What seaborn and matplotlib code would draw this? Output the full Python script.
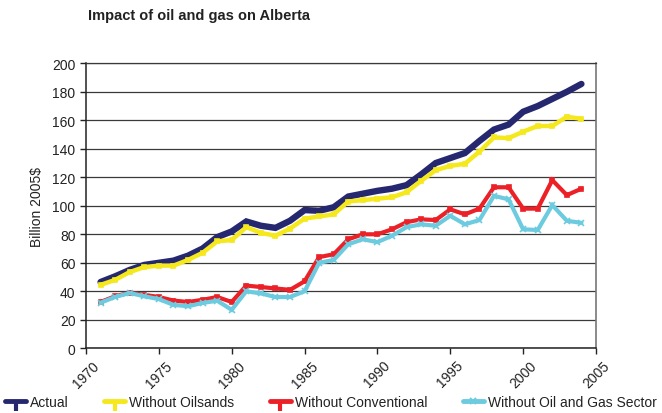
import numpy as np
import pandas as pd
import matplotlib
matplotlib.use("Agg")
import matplotlib.pyplot as plt
from matplotlib.lines import Line2D
import seaborn as sns

# ── Data (Billion 2005$) ─────────────────────────────────────────────────────
years = list(range(1971, 2005))

actual = [46.5, 50.5, 55, 58.5, 60, 61.5, 65, 70, 78, 82,
          89, 86, 84.5, 89.5, 97, 96.5, 99, 106.5, 108.5, 110.5,
          112, 114.5, 122, 130, 133.5, 137, 145.5, 153.5, 157, 166,
          170, 175, 180, 185.5]
no_oilsands = [44.5, 48, 53.5, 57, 58, 58, 62, 67, 75, 76,
               85, 81, 79, 84, 91, 92.5, 94, 103, 104, 105,
               106, 109.5, 117.5, 125, 128, 129.5, 138, 148, 147.5, 152,
               156, 156, 162.5, 161]
no_conventional = [32.5, 36.5, 39, 37.5, 36, 33.5, 32.5, 34, 36, 32.5,
                   44, 43, 42, 41, 47, 64, 66, 76.5, 80, 80,
                   83.5, 88.5, 90.5, 90, 97.5, 94, 98, 113, 113, 98,
                   98, 118, 107.5, 112]
no_sector = [32, 36, 38.8, 36.5, 34.5, 30.5, 29.5, 31.8, 33.4, 27,
             40, 38.5, 36, 36, 40, 60, 62, 73, 76.5, 74.5,
             79, 85, 87, 86, 93, 87, 90, 107, 104.5, 83.5,
             83, 100.5, 89.5, 88]

series_names = ["Actual", "Without Oilsands", "Without Conventional",
                "Without Oil and Gas Sector"]
x_ticks = list(range(1970, 2006, 5))
y_ticks = list(range(0, 201, 20))

# ── Styling ──────────────────────────────────────────────────────────────────
sns.set_style("white")
plt.rcParams["font.family"] = ["Liberation Sans", "DejaVu Sans"]

colors  = ["#25286f", "#f5e81c", "#ec2027", "#6dcbe0"]
widths  = [4.6, 3.2, 3.0, 3.0]
markers = [None, "s", "s", "x"]
msizes  = [0, 3.5, 3, 4.5]

df = pd.DataFrame({"year": years, series_names[0]: actual,
                   series_names[1]: no_oilsands,
                   series_names[2]: no_conventional,
                   series_names[3]: no_sector})
long = df.melt(id_vars="year", var_name="series", value_name="value")

fig = plt.figure(figsize=(6.62, 4.14), dpi=100)
ax = fig.add_axes([0.1299, 0.1563, 0.9003 - 0.1299, 0.8447 - 0.1563])

for name, c, lw, m, ms in zip(series_names, colors, widths, markers, msizes):
    sub = long[long["series"] == name]
    sns.lineplot(data=sub, x="year", y="value", ax=ax, color=c, linewidth=lw,
                 marker=m, markersize=ms, markeredgecolor=c, markeredgewidth=1.2,
                 solid_joinstyle="miter", legend=False)

# ── Axes ─────────────────────────────────────────────────────────────────────
ax.set_xlim(1970, 2005)
ax.set_ylim(0, 200)
ax.set_yticks(y_ticks)
ax.set_xticks(x_ticks)
ax.set_xticklabels([str(x) for x in x_ticks], rotation=45, ha="center", va="top")
ax.yaxis.grid(True, color="#3a3a3a", linewidth=0.9)
ax.set_axisbelow(True)
ax.tick_params(axis="both", direction="out", length=4, width=1, color="#222222",
               labelsize=10, labelcolor="#222222", left=True, bottom=True)
ax.tick_params(axis="x", pad=3)
for side in ["left", "bottom"]:
    ax.spines[side].set_color("#222222")
    ax.spines[side].set_linewidth(1.1)
ax.spines["right"].set_color("#777777")
ax.spines["right"].set_linewidth(1.2)
ax.spines["top"].set_color("#3a3a3a")
ax.spines["top"].set_linewidth(0.9)

ax.set_xlabel("")
ax.set_ylabel("Billion 2005$", fontsize=10, color="#222222", labelpad=6)

fig.text(0.133, 0.962, "Impact of oil and gas on Alberta", fontsize=10.5,
         fontweight="bold", color="#222222", ha="left", va="center")

# ── Legend ───────────────────────────────────────────────────────────────────
handles = []
for c, m in zip(colors, [3, 3, 3, "x"]):
    tick = m == 3
    handles.append(Line2D([0], [0], color=c, linewidth=3.5, marker=m,
                          markersize=7 if tick else 5,
                          markeredgewidth=3 if tick else 1.5,
                          markeredgecolor=c))
fig.legend(handles, series_names, loc="center", bbox_to_anchor=(0.5, 0.027),
           ncol=4, frameon=False, fontsize=10, handlelength=1.5,
           handletextpad=0.3, columnspacing=2.55, labelcolor="#222222")

fig.savefig("out.png", dpi=100)
